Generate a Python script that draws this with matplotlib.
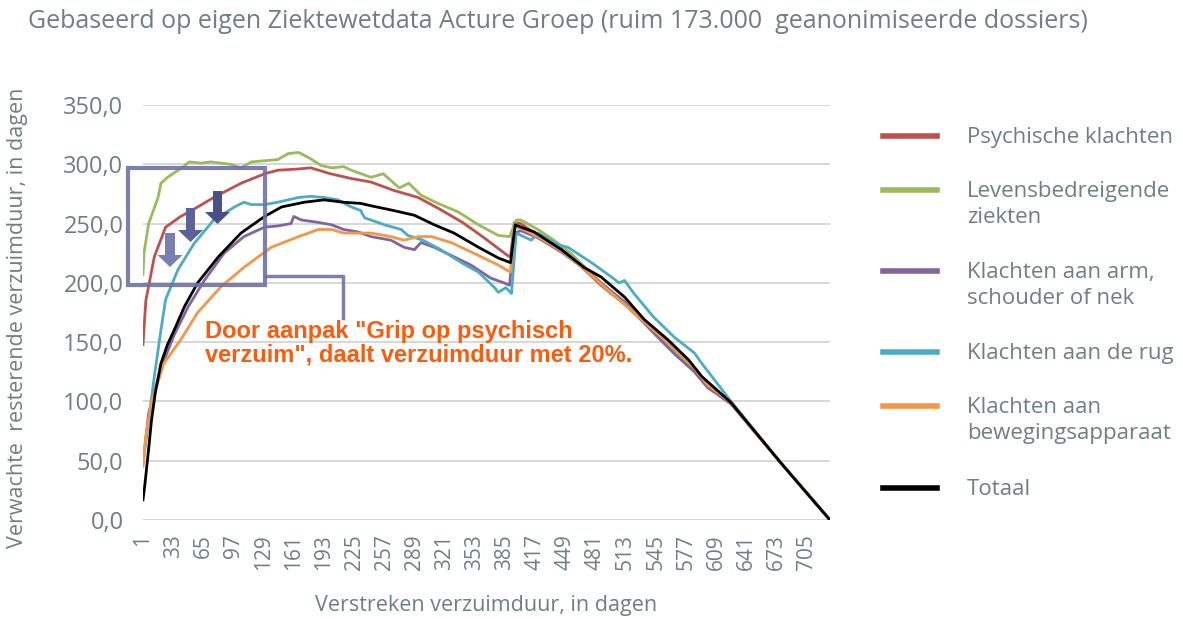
import matplotlib
matplotlib.use('Agg')
import matplotlib.pyplot as plt
from matplotlib.lines import Line2D
from matplotlib.patches import Polygon, Rectangle

W, H = 1183, 619

# days since start of absence (category axis 1..730)
tick_days = list(range(1, 706, 32))
y_ticks = [0, 50, 100, 150, 200, 250, 300, 350]

names = ['Psychische klachten', 'Levensbedreigende\nziekten', 'Klachten aan arm,\nschouder of nek',
         'Klachten aan de rug', 'Klachten aan\nbewegingsapparaat', 'Totaal']
colors = ['#c0504d', '#9bbb59', '#8064a2', '#4bacc6', '#f79646', '#000000']

psych_x = [1, 4, 13, 25, 41, 59, 76, 105, 130, 144, 165, 179, 200, 222, 243, 267, 293, 314, 340, 363, 388, 391,
           395, 402, 420, 437, 455, 487, 512, 540, 565, 586, 600, 625, 678, 730]
psych_y = [148, 185, 222, 247, 256, 264, 272, 284, 292, 295, 296, 297, 292, 288, 285, 278, 272, 263, 251, 238, 223, 222,
           251, 250, 240, 234, 222, 198, 182, 161, 143, 126, 112, 98, 48, 0]

leven_x = [1, 2, 7, 17, 20, 27, 44, 50, 63, 73, 94, 105, 116, 144, 155, 166, 176, 190, 201, 214, 222, 229, 243, 256,
           273, 283, 296, 314, 335, 357, 378, 390, 397, 402, 420, 437, 455, 487, 512, 540, 565, 586, 600, 625, 678, 730]
leven_y = [207, 225, 250, 272, 284, 289, 298, 302, 301, 302, 300, 297, 302, 304, 309, 310, 306, 299, 297, 298, 295, 293,
           289, 292, 280, 284, 274, 267, 260, 249, 240, 239, 253, 253, 245, 236, 225, 200, 182, 162, 143, 127, 113, 99,
           48, 0]

arm_x = [1, 7, 20, 34, 49, 66, 87, 108, 130, 144, 158, 161, 169, 187, 201, 214, 229, 243, 264, 278, 289, 296, 310,
         331, 349, 370, 384, 390, 395, 402, 420, 445, 469, 487, 512, 540, 565, 586, 600, 625, 678, 730]
arm_y = [48, 90, 128, 156, 180, 202, 225, 239, 247, 248, 250, 256, 253, 251, 249, 245, 243, 239, 236, 230, 228, 234,
         230, 222, 215, 204, 200, 198, 242, 244, 238, 226, 212, 200, 184, 160, 140, 125, 112, 98, 48, 0]

rug_x = [1, 7, 13, 20, 25, 38, 55, 76, 98, 108, 116, 130, 144, 166, 179, 193, 208, 222, 232, 236, 257, 275, 282, 298,
         317, 339, 357, 374, 378, 386, 392, 397, 413, 420, 442, 452, 477, 498, 506, 512, 522, 543, 565, 586, 594, 625,
         678, 730]
rug_y = [48, 84, 121, 160, 186, 211, 233, 253, 264, 268, 266, 266, 268, 272, 273, 272, 270, 264, 261, 255, 249, 245,
         240, 236, 228, 217, 209, 196, 192, 196, 191, 242, 236, 242, 232, 230, 217, 205, 200, 202, 191, 171, 154, 141,
         132, 100, 48, 0]

beweg_x = [1, 4, 10, 23, 41, 59, 84, 108, 137, 166, 187, 201, 214, 232, 243, 264, 278, 293, 307, 328, 352, 378, 391,
           395, 402, 420, 445, 469, 487, 512, 540, 565, 586, 600, 625, 678, 730]
beweg_y = [45, 70, 99, 132, 152, 175, 197, 213, 230, 239, 245, 245, 242, 242, 242, 239, 236, 239, 239, 234, 225, 215, 209,
           247, 246, 239, 227, 212, 199, 182, 162, 145, 128, 114, 99, 48, 0]

totaal_x = [1, 3, 5, 7, 10, 14, 20, 27, 34, 45, 59, 81, 105, 130, 148, 172, 193, 214, 232, 243, 267, 289, 310, 331,
            357, 378, 391, 396, 402, 416, 445, 469, 487, 512, 533, 558, 580, 594, 625, 678, 730]
totaal_y = [17, 30, 45, 60, 84, 107, 132, 148, 160, 180, 200, 222, 242, 256, 264, 268, 270, 268, 267, 265, 261, 257,
            249, 242, 230, 221, 217, 249, 247, 243, 228, 213, 205, 188, 169, 152, 135, 121, 99, 48, 0]

series = [(psych_x, psych_y), (leven_x, leven_y), (arm_x, arm_y), (rug_x, rug_y), (beweg_x, beweg_y),
          (totaal_x, totaal_y)]

grey = '#6f7f7f'
plt.rcParams['font.family'] = ['Open Sans', 'DejaVu Sans']

fig = plt.figure(figsize=(W / 100, H / 100), dpi=100)
ax = fig.add_axes([143 / W, 1 - 520 / H, 687 / W, 415 / H])

for (xs, ys), c in zip(series, colors):
    ax.plot(xs, ys, color=c, lw=2.0, solid_joinstyle='round', zorder=3)

ax.set_xlim(1, 730)
ax.set_ylim(0, 350)
ax.set_yticks(y_ticks)
ax.set_yticklabels([f'{v:.1f}'.replace('.', ',') for v in y_ticks], fontsize=17, color=grey)
ax.set_xticks(tick_days)
ax.set_xticklabels([str(d) for d in tick_days], rotation=90, fontsize=15, color=grey)
ax.tick_params(length=0, pad=10)
ax.tick_params(axis='y', pad=14)
ax.grid(axis='y', color='#d4d4d4', lw=1.3)
ax.set_axisbelow(True)
for s in ax.spines.values():
    s.set_visible(False)

ax.set_xlabel('Verstreken verzuimduur, in dagen', fontsize=15.5, color=grey, labelpad=18)
fig.text(18 / W, 1 - 318 / H, 'Verwachte  resterende verzuimduur, in dagen', rotation=90,
         fontsize=15.5, color=grey, ha='center', va='center')
fig.text(28 / W, 1 - 22 / H, 'Gebaseerd op eigen Ziektewetdata Acture Groep (ruim 173.000  geanonimiseerde dossiers)',
         fontsize=18, color=grey, ha='left', va='center')

# legend drawn by hand so the swatch sits on the first text line
leg_y = [136, 190, 271, 352, 406, 488]
for name, c, ly in zip(names, colors, leg_y):
    fig.add_artist(Line2D([883 / W, 937 / W], [1 - ly / H, 1 - ly / H], color=c, lw=4,
                          transform=fig.transFigure))
    fig.text(967 / W, 1 - (ly - 9) / H, name, fontsize=16, color=grey, ha='left', va='top',
             linespacing=1.3)


def fp(x, y):
    return (x / W, 1 - y / H)


box_c = '#6d72a8'
fig.add_artist(Rectangle(fp(128, 285), 137 / W, 117 / H, fill=False, ec=box_c, lw=3,
                         transform=fig.transFigure, alpha=0.9))
fig.add_artist(Line2D([265 / W, 343 / W, 343 / W], [1 - 276 / H, 1 - 276 / H, 1 - 318 / H], color=box_c, lw=2.5,
                      transform=fig.transFigure, alpha=0.9))

arrows = [(170, 10, 25, 233, 255, 267, '#7a7fb0'),
          (190.5, 9, 25, 208, 230, 242, '#5c619e'),
          (217.5, 9, 25, 191, 212, 224, '#4a4f8c')]
for xc, sw, hw, top, hs, tip, c in arrows:
    pts = [(xc - sw / 2, top), (xc + sw / 2, top), (xc + sw / 2, hs), (xc + hw / 2, hs), (xc, tip),
           (xc - hw / 2, hs), (xc - sw / 2, hs)]
    fig.add_artist(Polygon([fp(px, py) for px, py in pts], closed=True, fc=c, ec='none',
                           transform=fig.transFigure))

fig.text(205 / W, 1 - 343 / H, 'Door aanpak "Grip op psychisch\nverzuim", daalt verzuimduur met 20%.',
         fontsize=17, color='#ff5a0a', fontweight='bold', family=['Liberation Sans', 'DejaVu Sans'],
         ha='left', va='center', linespacing=1.05)

fig.savefig('out.png', dpi=100, facecolor='white')
